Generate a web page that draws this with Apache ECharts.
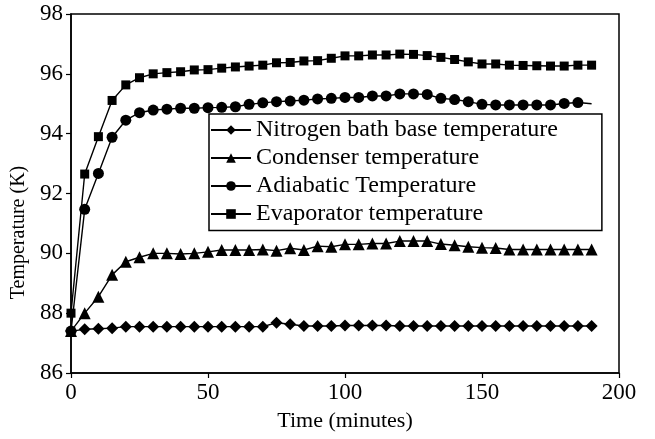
<!DOCTYPE html>
<html>
<head>
<meta charset="utf-8">
<script src="https://cdn.jsdelivr.net/npm/echarts@6/dist/echarts.min.js"></script>
<style>
html,body{margin:0;padding:0;background:#fff;}
#chart{width:655px;height:439px;}
</style>
</head>
<body>
<div id="chart"></div>
<script>
const timeMinutes = [0,5,10,15,20,25,30,35,40,45,50,55,60,65,70,75,80,85,90,95,100,105,110,115,120,125,130,135,140,145,150,155,160,165,170,175,180,185,190];

const nitrogenBath = [87.40,87.46,87.48,87.50,87.55,87.55,87.55,87.55,87.55,87.55,87.55,87.55,87.55,87.55,87.55,87.68,87.63,87.57,87.57,87.57,87.59,87.59,87.59,87.59,87.57,87.57,87.57,87.57,87.57,87.57,87.57,87.57,87.57,87.57,87.57,87.57,87.57,87.57,87.57];

const condenser = [87.40,88.00,88.55,89.28,89.72,89.87,90.00,90.00,89.98,90.00,90.05,90.11,90.11,90.11,90.13,90.09,90.17,90.11,90.24,90.22,90.30,90.30,90.33,90.33,90.41,90.41,90.41,90.31,90.27,90.22,90.19,90.18,90.13,90.13,90.13,90.13,90.13,90.13,90.13];

const adiabatic = [87.40,91.47,92.67,93.88,94.45,94.70,94.79,94.82,94.85,94.85,94.87,94.88,94.90,94.98,95.03,95.07,95.09,95.12,95.16,95.18,95.21,95.21,95.26,95.26,95.33,95.33,95.31,95.18,95.14,95.07,94.98,94.96,94.96,94.96,94.96,94.96,95.01,95.04,95.00];

const evaporator = [88.00,92.65,93.90,95.11,95.63,95.87,96.00,96.04,96.07,96.13,96.14,96.19,96.23,96.26,96.29,96.37,96.38,96.43,96.44,96.52,96.60,96.60,96.63,96.63,96.66,96.65,96.61,96.55,96.48,96.40,96.33,96.33,96.29,96.28,96.27,96.26,96.26,96.29,96.29];

const seriesNames = ['Nitrogen bath base temperature','Condenser temperature','Adiabatic Temperature','Evaporator temperature'];
const xTicks = ['0','50','100','150','200'];
const yTicks = ['86','88','90','92','94','96','98'];

const FONT = '"Liberation Serif", "Times New Roman", serif';

function pairs(vals, noSymbolLast) {
  return timeMinutes.map((t, i) => {
    if (noSymbolLast && i === timeMinutes.length - 1) {
      return {value: [t, vals[i]], symbol: 'none'};
    }
    return [t, vals[i]];
  });
}

function mkSeries(name, vals, symbol, size, noSymbolLast) {
  return {
    name: name,
    type: 'line',
    data: pairs(vals, noSymbolLast),
    symbol: symbol,
    symbolSize: size,
    showAllSymbol: true,
    lineStyle: {color: '#000', width: 1.4},
    itemStyle: {color: '#000', borderWidth: 0},
    emphasis: {disabled: true}
  };
}

const chart = echarts.init(document.getElementById('chart'), null, {renderer: 'canvas'});
chart.setOption({
  animation: false,
  backgroundColor: '#fff',
  grid: {left: 71, right: 36, top: 14, bottom: 66, show: true, borderColor: '#000', borderWidth: 1.5, backgroundColor: 'transparent'},
  xAxis: {
    type: 'value', min: 0, max: 200, interval: 50,
    name: 'Time (minutes)', nameLocation: 'middle', nameGap: 37,
    nameTextStyle: {fontFamily: FONT, fontSize: 22, color: '#000'},
    axisLine: {onZero: false, lineStyle: {color: '#000', width: 1.5}},
    axisTick: {inside: false, length: 5, lineStyle: {color: '#000', width: 1.2}},
    axisLabel: {margin: 8, fontFamily: FONT, fontSize: 23, color: '#000',
      formatter: v => xTicks[Math.round(v / 50)]},
    splitLine: {show: false}
  },
  yAxis: {
    type: 'value', min: 86, max: 98, interval: 2,
    name: 'Temperature (K)', nameLocation: 'middle', nameGap: 33,
    nameTextStyle: {fontFamily: FONT, fontSize: 20, color: '#000', padding: [0, 78, 0, 0]},
    axisLine: {onZero: false, lineStyle: {color: '#000', width: 1.5}},
    axisTick: {inside: false, length: 5, lineStyle: {color: '#000', width: 1.2}},
    axisLabel: {margin: 8, fontFamily: FONT, fontSize: 23, color: '#000',
      formatter: v => yTicks[Math.round((v - 86) / 2)]},
    splitLine: {show: false}
  },
  legend: {
    orient: 'vertical', left: 209, top: 114,
    padding: [4, 44, 4.5, 1], itemGap: 4, itemWidth: 40, itemHeight: 12,
    borderColor: '#000', borderWidth: 1.5, backgroundColor: '#fff',
    textStyle: {fontFamily: FONT, fontSize: 24, lineHeight: 22, color: '#000'},
    data: seriesNames
  },
  series: [
    mkSeries(seriesNames[0], nitrogenBath, 'diamond', 12, false),
    mkSeries(seriesNames[1], condenser, 'triangle', 12, false),
    mkSeries(seriesNames[2], adiabatic, 'circle', 11, true),
    mkSeries(seriesNames[3], evaporator, 'rect', 9, false)
  ]
});
</script>
</body>
</html>
